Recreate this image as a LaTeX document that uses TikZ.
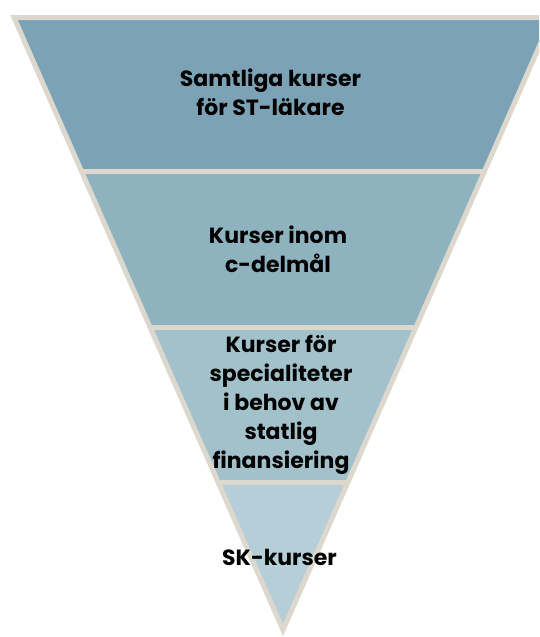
\documentclass[tikz,border=0pt]{standalone}
\usepackage{fontspec}
\setmainfont{Poppins}[BoldFont={* Bold}]
\definecolor{bandA}{HTML}{7BA3B5}
\definecolor{bandB}{HTML}{8EB2BE}
\definecolor{bandC}{HTML}{A3C1CB}
\definecolor{bandD}{HTML}{B5CED7}
\definecolor{rim}{HTML}{DDD8CE}
\tikzset{
  rimline/.style={draw=rim, line width=5pt, line join=miter, miter limit=20},
  label/.style={align=center, font=\bfseries\fontsize{22}{29}\selectfont, text=black, inner sep=0pt}
}
\begin{document}
\begin{tikzpicture}[x=1pt,y=-1pt]
\useasboundingbox (0,0) rectangle (539,637);
\clip (0,0) rectangle (539,637);
\coordinate (TL) at (14,17.5);
\coordinate (TR) at (552,17.5);
\coordinate (L1) at (81.2,171);
\coordinate (R1) at (484.8,171);
\coordinate (L2) at (149.7,327.5);
\coordinate (R2) at (416.3,327.5);
\coordinate (L3) at (217.5,482.5);
\coordinate (R3) at (348.5,482.5);
\coordinate (AP) at (283,630);
\fill[bandA] (TL) -- (TR) -- (R1) -- (L1) -- cycle;
\fill[bandB] (L1) -- (R1) -- (R2) -- (L2) -- cycle;
\fill[bandC] (L2) -- (R2) -- (R3) -- (L3) -- cycle;
\fill[bandD] (L3) -- (R3) -- (AP) -- cycle;
\draw[rimline] (L1) -- (R1);
\draw[rimline] (L2) -- (R2);
\draw[rimline] (L3) -- (R3);
\draw[rimline] (TL) -- (TR) -- (AP) -- cycle;
\node[label] (t1) at (270.5,92.5) {Samtliga kurser\\för ST-läkare};
\node[label] (t2) at (278,249) {Kurser inom\\c-delmål};
\node[label] (t3) at (281,404.5) {Kurser för\\specialiteter\\i behov av\\statlig\\finansiering};
\node[label] (t4) at (279.5,557.5) {SK-kurser};
\end{tikzpicture}
\end{document}
